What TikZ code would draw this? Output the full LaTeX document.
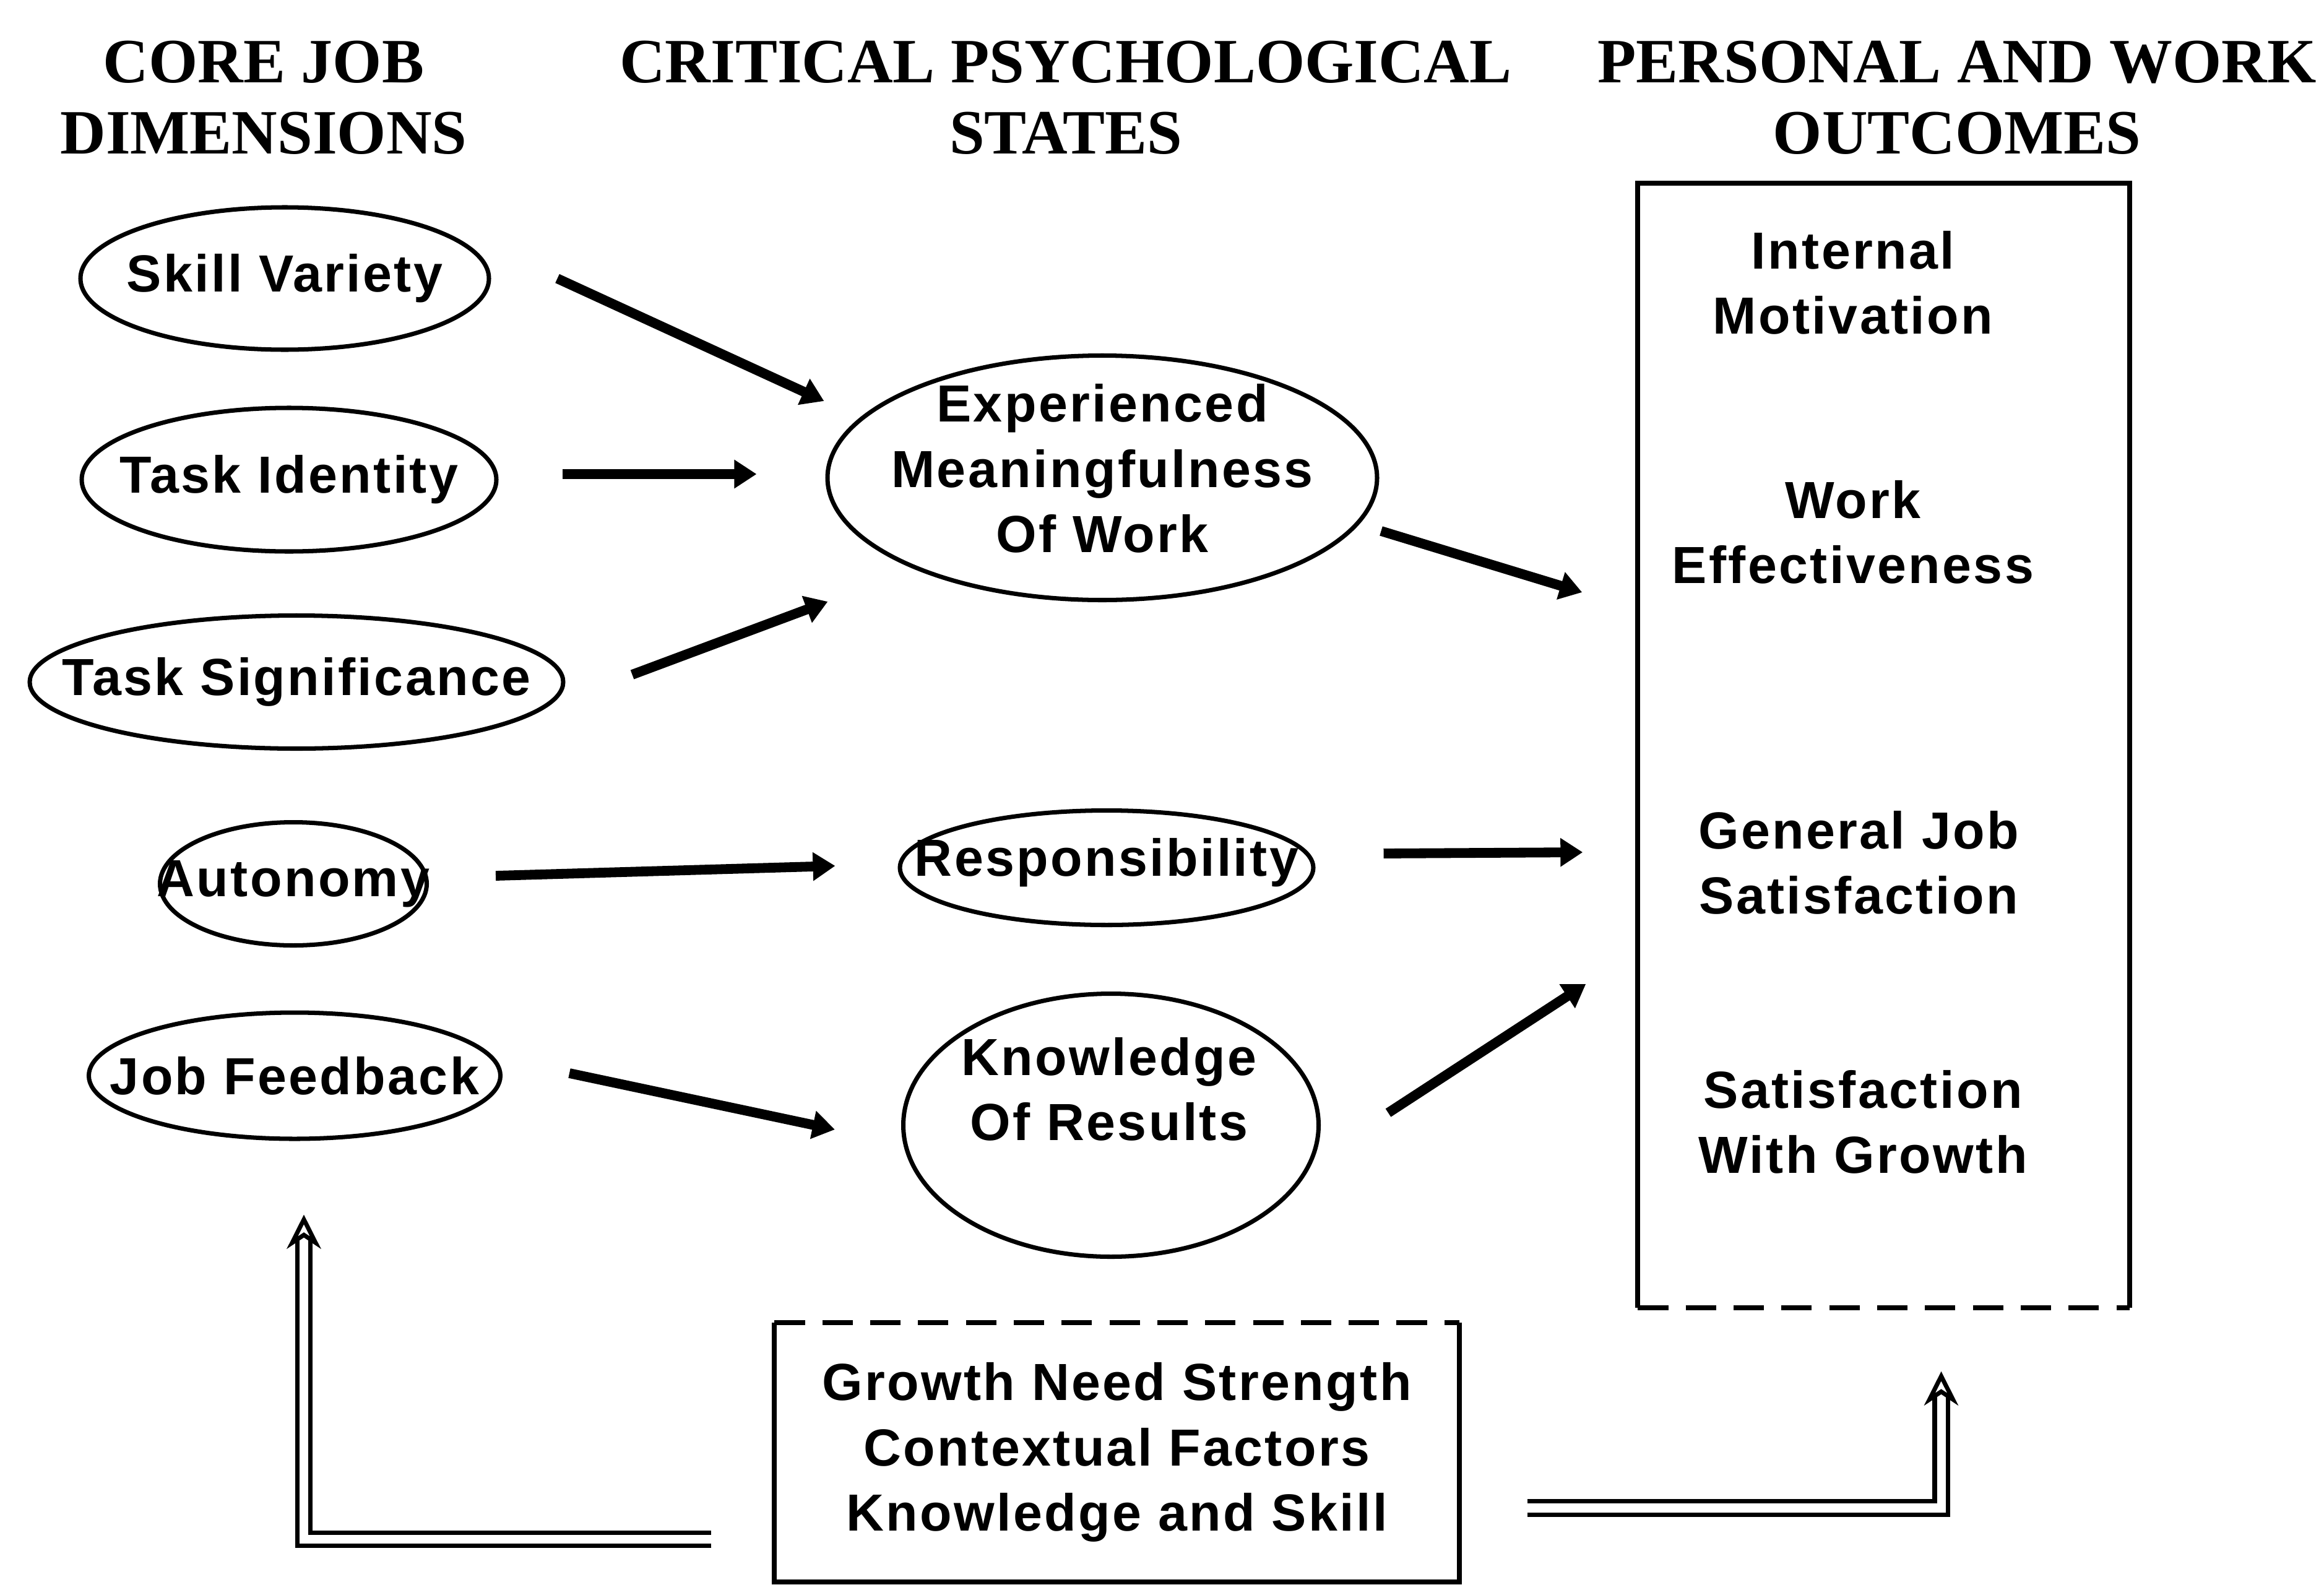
\documentclass[tikz,border=0pt]{standalone}
\usepackage{fontspec}
\setmainfont{Liberation Serif}
\newfontfamily\nodefont[LetterSpace=4]{Liberation Sans}
\usetikzlibrary{shapes.geometric, arrows.meta}

\begin{document}
\begin{tikzpicture}[
    x=1cm, y=-1cm,
    heading/.style={font=\bfseries\fontsize{29}{32.6}\selectfont, align=center, inner sep=0pt},
    txt/.style={align=center, inner sep=0pt, font=\nodefont\bfseries\fontsize{24}{30}\selectfont},
    dimension/.style={ellipse, draw, line width=2pt, inner sep=0pt},
    frame/.style={line width=2.2pt},
    arrow/.style={-{Triangle[length=0.36cm,width=0.44cm]}, line width=4.5pt},
    moderate/.style={double, line width=2pt, double distance=4pt, -{Stealth[open, length=0.55cm, width=0.55cm, inset=0.18cm]}}
]
    \useasboundingbox (0,0) rectangle (37.55,25.69);

    % column headings
    \node[heading] (corehead) at (4.26,1.58) {CORE JOB\\DIMENSIONS};
    \node[heading] (crithead) at (17.22,1.58) {CRITICAL PSYCHOLOGICAL\\STATES};
    \node[heading] (outhead) at (31.62,1.58) {PERSONAL AND WORK\\OUTCOMES};

    % core job dimensions
    \node[dimension, minimum width=6.6cm, minimum height=2.3cm, label={[txt]center:Skill Variety}] (sv) at (4.60,4.50) {};
    \node[dimension, minimum width=6.7cm, minimum height=2.32cm, label={[txt]center:Task Identity}] (ti) at (4.67,7.75) {};
    \node[dimension, minimum width=8.62cm, minimum height=2.15cm, label={[txt]center:Task Significance}] (ts) at (4.79,11.02) {};
    \node[dimension, minimum width=4.31cm, minimum height=1.99cm, label={[txt]center:Autonomy}] (au) at (4.74,14.28) {};
    \node[dimension, minimum width=6.65cm, minimum height=2.04cm, label={[txt]center:Job Feedback}] (jf) at (4.76,17.38) {};

    % psychological states
    \node[dimension, minimum width=8.88cm, minimum height=3.95cm, label={[txt, yshift=0.15cm]center:Experienced\\Meaningfulness\\Of Work}] (emw) at (17.81,7.72) {};
    \node[dimension, minimum width=6.68cm, minimum height=1.85cm, label={[txt, yshift=0.08cm]center:Responsibility}] (resp) at (17.88,14.02) {};
    \node[dimension, minimum width=6.71cm, minimum height=4.25cm, label={[txt, xshift=-0.03cm, yshift=0.58cm]center:Knowledge\\Of Results}] (kor) at (17.95,18.18) {};

    % outcomes
    \node[minimum width=7.93cm, minimum height=18.15cm, inner sep=0pt] (outcomes) at (30.435,12.045) {};
    \draw[frame] (outcomes.south west) -- (outcomes.north west) -- (outcomes.north east) -- (outcomes.south east);
    \draw[frame, dash pattern=on 14pt off 8pt] (outcomes.south west) -- (outcomes.south east);
    \node[txt] (intmot) at (29.94,4.57) {Internal\\Motivation};
    \node[txt] (workeff) at (29.94,8.60) {Work\\Effectiveness};
    \node[txt] (genjob) at (30.03,13.94) {General Job\\Satisfaction};
    \node[txt] (growth) at (30.10,18.13) {Satisfaction\\With Growth};

    % moderators
    \node[txt, minimum width=11.05cm, minimum height=4.17cm] (mod) at (18.045,23.465) {Growth Need Strength\\Contextual Factors\\Knowledge and Skill};
    \draw[frame] (mod.north east) -- (mod.south east) -- (mod.south west) -- (mod.north west);
    \draw[frame, dash pattern=on 14pt off 8pt] (mod.north west) -- (mod.north east);

    \draw[arrow] ([shift={(1.07,0)}]sv.east) -- ([shift={(-0.02,-1.24)}]emw.west);
    \draw[arrow] ([shift={(1.03,-0.09)}]ti.east) -- ([shift={(-1.11,-0.06)}]emw.west);
    \draw[arrow] ([shift={(1.08,-0.12)}]ts.east) -- ([shift={(0.04,2.00)}]emw.west);
    \draw[arrow] ([shift={(0.03,0.86)}]emw.east) -- ([shift={(-0.90,-2.475)}]outcomes.west);
    \draw[arrow] ([shift={(1.08,-0.13)}]au.east) -- ([shift={(-1.01,-0.03)}]resp.west);
    \draw[arrow] ([shift={(1.10,-0.23)}]resp.east) -- ([shift={(-0.89,1.725)}]outcomes.west);
    \draw[arrow] ([shift={(1.08,-0.04)}]jf.east) -- ([shift={(-1.07,0.07)}]kor.west);
    \draw[arrow] ([shift={(1.09,-0.20)}]kor.east) -- ([shift={(-0.84,3.855)}]outcomes.west);

    \draw[moderate] ([shift={(-1.02,-0.69)}]mod.south west) -| ([shift={(0.15,1.19)}]jf.south);
    \draw[moderate] ([shift={(1.10,0.90)}]mod.east) -| ([shift={(0.93,1.03)}]outcomes.south);
\end{tikzpicture}
\end{document}
